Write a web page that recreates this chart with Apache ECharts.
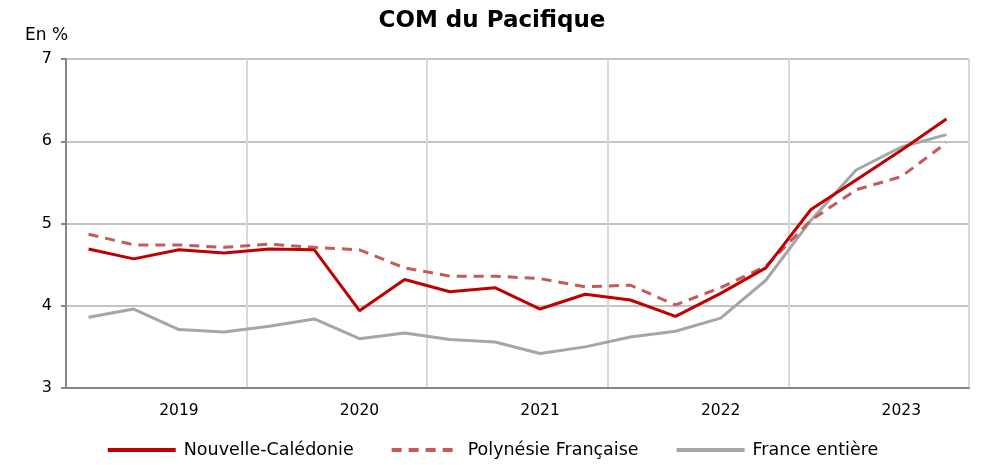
<!DOCTYPE html>
<html>
<head>
<meta charset="utf-8">
<script src="https://cdn.jsdelivr.net/npm/echarts@6/dist/echarts.min.js"></script>
<style>
  html, body { margin: 0; padding: 0; background: #fff; }
  #chart { width: 984px; height: 465px; }
</style>
</head>
<body>
<div id="chart"></div>
<script>
// trimestres 2019 T1 -> 2023 T4
var years = ['2019', '2020', '2021', '2022', '2023'];
var quarters = [];
years.forEach(function (y) {
    ['T1', 'T2', 'T3', 'T4'].forEach(function (q) { quarters.push(q + ' ' + y); });
});

var nouvelleCaledonie = [4.69, 4.57, 4.68, 4.64, 4.69, 4.68, 3.94, 4.32, 4.17, 4.22,
    3.96, 4.14, 4.07, 3.87, 4.15, 4.46, 5.17, 5.53, 5.89, 6.27];
var polynesie = [4.87, 4.74, 4.74, 4.71, 4.75, 4.71, 4.68, 4.46, 4.36, 4.36,
    4.33, 4.23, 4.25, 4.01, 4.22, 4.48, 5.04, 5.41, 5.57, 5.98];
var franceEntiere = [3.86, 3.96, 3.71, 3.68, 3.75, 3.84, 3.60, 3.67, 3.59, 3.56,
    3.42, 3.50, 3.62, 3.69, 3.85, 4.31, 5.04, 5.65, 5.93, 6.08];

var font = "'DejaVu Sans', Verdana, sans-serif";

var chart = echarts.init(document.getElementById('chart'));

var option = {
    animation: false,
    textStyle: { fontFamily: font },
    title: {
        text: 'COM du Pacifique',
        left: 'center',
        top: 5,
        textStyle: { fontFamily: font, fontSize: 23, fontWeight: 'bold', color: '#000' }
    },
    graphic: [{
        type: 'text',
        left: 25,
        top: 27,
        style: { text: 'En %', font: '17px ' + font, fill: '#000' }
    }],
    legend: {
        bottom: 1,
        left: 'center',
        itemWidth: 68,
        itemHeight: 14,
        itemGap: 36,
        itemStyle: { opacity: 0 },
        lineStyle: { width: 4 },
        textStyle: { fontFamily: font, fontSize: 17.5, color: '#000', padding: [0, 0, 0, 3] },
        data: ['Nouvelle-Calédonie', 'Polynésie Française', 'France entière']
    },
    grid: { left: 66, right: 15, top: 59, bottom: 77 },
    xAxis: {
        type: 'category',
        data: quarters,
        boundaryGap: true,
        axisLine: { lineStyle: { color: '#868686', width: 2 } },
        axisTick: { interval: 3, length: 5, lineStyle: { color: '#868686', width: 2 } },
        splitLine: { show: true, interval: 3, lineStyle: { color: '#d9d9d9', width: 2 } },
        axisLabel: {
            interval: function (i) { return i % 4 === 2; },
            formatter: function (v) { return v.split(' ')[1]; },
            fontSize: 15.5,
            color: '#000',
            margin: 15
        }
    },
    yAxis: {
        type: 'value',
        min: 3,
        max: 7,
        interval: 1,
        axisLine: { show: true, lineStyle: { color: '#868686', width: 2 } },
        axisTick: { show: true, length: 5, lineStyle: { color: '#868686', width: 2 } },
        splitLine: { lineStyle: { color: '#c3c3c3', width: 2 } },
        axisLabel: { fontSize: 16, color: '#000', margin: 14 }
    },
    series: [
        {
            name: 'Nouvelle-Calédonie',
            type: 'line',
            data: nouvelleCaledonie,
            symbol: 'none',
            color: '#c00000',
            lineStyle: { color: '#c00000', width: 3 },
            z: 4
        },
        {
            name: 'Polynésie Française',
            type: 'line',
            data: polynesie,
            symbol: 'none',
            color: '#c55a5a',
            lineStyle: { color: '#c55a5a', width: 3, type: [10, 7] },
            z: 3
        },
        {
            name: 'France entière',
            type: 'line',
            data: franceEntiere,
            symbol: 'none',
            color: '#a6a6a6',
            lineStyle: { color: '#a6a6a6', width: 3 },
            z: 2
        }
    ]
};

chart.setOption(option);
</script>
</body>
</html>
